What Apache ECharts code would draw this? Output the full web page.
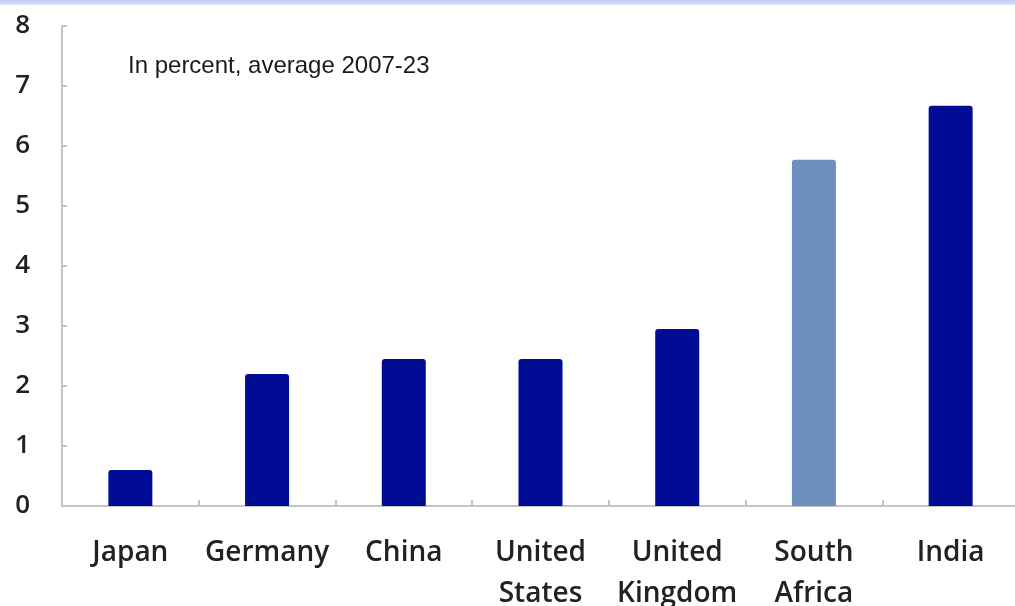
<!DOCTYPE html>
<html>
<head>
<meta charset="utf-8">
<script src="https://cdn.jsdelivr.net/npm/echarts@6/dist/echarts.min.js"></script>
<style>
  html, body { margin: 0; padding: 0; background: #ffffff; }
  #chart { width: 1015px; height: 606px; }
</style>
</head>
<body>
<div id="chart"></div>
<script>
// Average values by country, in percent (2007-23)
const countries = ['Japan', 'Germany', 'China', 'United\nStates', 'United\nKingdom', 'South\nAfrica', 'India'];
const values = [0.6, 2.2, 2.45, 2.45, 2.95, 5.77, 6.67];
const highlighted = ['South\nAfrica'];
const yTicks = [0, 1, 2, 3, 4, 5, 6, 7, 8];

const darkBlue = '#010c94';
const lightBlue = '#6d8fbe';

const chart = echarts.init(document.getElementById('chart'), null, { renderer: 'canvas' });

chart.setOption({
  animation: false,
  backgroundColor: '#ffffff',
  graphic: [
    {
      type: 'rect',
      left: 0, top: 0,
      shape: { width: 1015, height: 6 },
      style: {
        fill: new echarts.graphic.LinearGradient(0, 0, 0, 1, [
          { offset: 0, color: '#c3d0f6' },
          { offset: 0.6, color: '#cdd9f8' },
          { offset: 1, color: '#ffffff' }
        ])
      },
      silent: true
    },
    {
      type: 'text',
      left: 128, top: 54,
      style: {
        text: 'In percent, average 2007-23',
        font: '24px "Liberation Sans", Arial, sans-serif',
        fill: '#1a1a1a'
      }
    }
  ],
  grid: { left: 62, right: -4, top: 26, bottom: 100, containLabel: false, outerBoundsMode: 'none' },
  xAxis: {
    type: 'category',
    data: countries,
    axisLine: { lineStyle: { color: '#c4c4c4', width: 2 } },
    axisTick: { show: true, inside: true, length: 6, lineStyle: { color: '#c4c4c4', width: 2 } },
    axisLabel: {
      margin: 27,
      interval: 0,
      color: '#222222',
      fontFamily: '"Open Sans", "Noto Sans", sans-serif',
      fontSize: 28,
      fontWeight: 600,
      lineHeight: 41
    }
  },
  yAxis: {
    type: 'value',
    min: 0, max: 8, interval: 1,
    splitLine: { show: false },
    axisLine: { show: true, lineStyle: { color: '#c4c4c4', width: 2 } },
    axisTick: { show: true, inside: true, length: 5, lineStyle: { color: '#c4c4c4', width: 2 } },
    axisLabel: {
      margin: 32,
      color: '#222222',
      fontFamily: '"Open Sans", "Noto Sans", sans-serif',
      fontSize: 26,
      fontWeight: 600,
      formatter: v => yTicks.includes(v) ? String(v) : ''
    }
  },
  series: [{
    type: 'bar',
    barWidth: 44,
    data: values.map((v, i) => ({
      value: v,
      itemStyle: { color: highlighted.includes(countries[i]) ? lightBlue : darkBlue }
    })),
    itemStyle: { borderRadius: [3, 3, 0, 0] }
  }]
});
</script>
</body>
</html>
